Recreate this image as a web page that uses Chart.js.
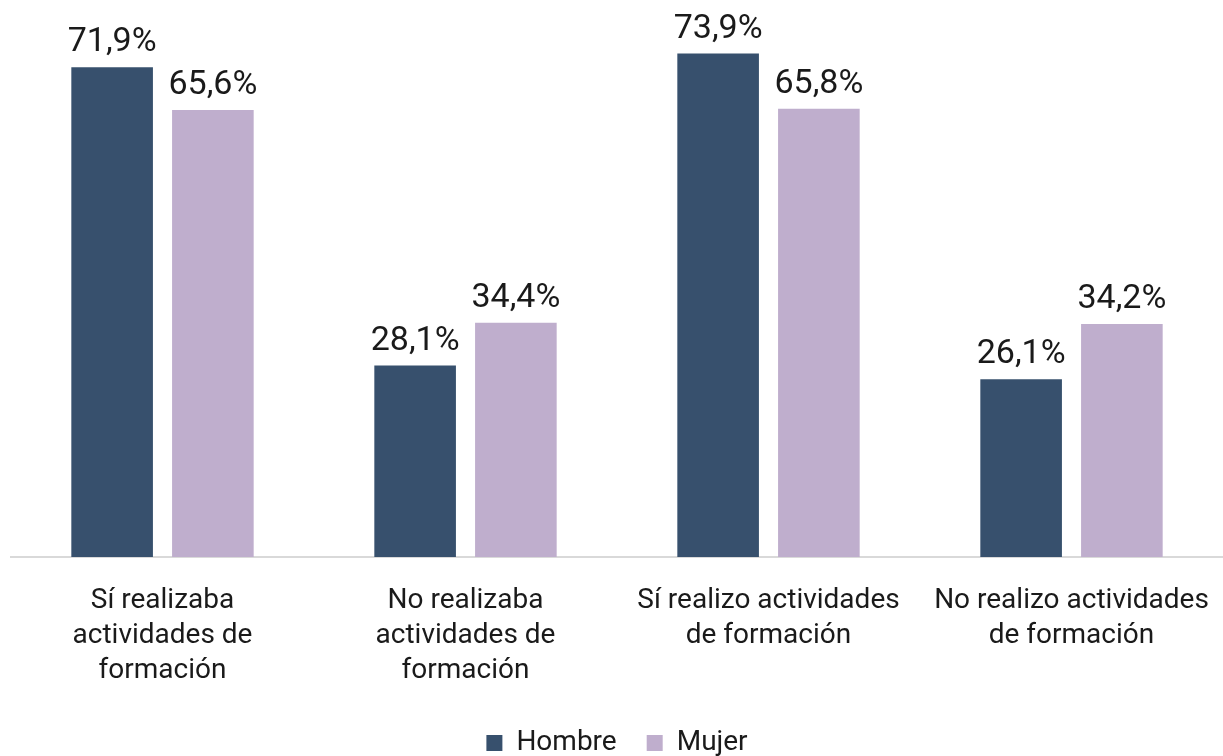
<!DOCTYPE html>
<html>
<head>
<meta charset="utf-8">
<script src="https://cdn.jsdelivr.net/npm/chart.js@4.4.1/dist/chart.umd.min.js"></script>
<style>
  html, body { margin: 0; padding: 0; background: #fff; }
  #wrap { width: 1223px; height: 756px; }
</style>
</head>
<body>
<div id="wrap"><canvas id="chart" width="1223" height="756"></canvas></div>
<script>
// categorías (en varias líneas como en el original)
const categorias = [
  ['Sí realizaba', 'actividades de', 'formación'],
  ['No realizaba', 'actividades de', 'formación'],
  ['Sí realizo actividades', 'de formación'],
  ['No realizo actividades', 'de formación']
];
const hombre = [71.9, 28.1, 73.9, 26.1];
const mujer = [65.6, 34.4, 65.8, 34.2];

const FONT = 'Roboto, "DejaVu Sans", sans-serif';

// etiquetas de valor encima de cada barra
const etiquetas = {
  id: 'etiquetas',
  afterDatasetsDraw(chart) {
    const ctx = chart.ctx;
    ctx.save();
    ctx.font = '34px ' + FONT;
    ctx.fillStyle = '#1a1a1a';
    ctx.textAlign = 'center';
    ctx.textBaseline = 'alphabetic';
    chart.data.datasets.forEach((ds, i) => {
      chart.getDatasetMeta(i).data.forEach((bar, j) => {
        const txt = ds.data[j].toFixed(1).replace('.', ',') + '%';
        ctx.fillText(txt, bar.x, bar.y - 16);
      });
    });
    ctx.restore();
  }
};

// sube un poco la leyenda
const subirLeyenda = {
  id: 'subirLeyenda',
  afterLayout(chart) {
    if (chart.legend) {
      chart.legend.top -= 7;
      chart.legend.bottom -= 7;
    }
  }
};

new Chart(document.getElementById('chart'), {
  type: 'bar',
  data: {
    labels: categorias,
    datasets: [
      { label: 'Hombre', data: hombre, backgroundColor: '#37506d' },
      { label: 'Mujer', data: mujer, backgroundColor: '#bfaecd' }
    ]
  },
  options: {
    responsive: false,
    animation: false,
    layout: { padding: { top: 12, left: 11, right: 0, bottom: -18 } },
    datasets: {
      bar: { categoryPercentage: 0.665, barPercentage: 0.81 }
    },
    plugins: {
      legend: {
        position: 'bottom',
        labels: {
          font: { family: FONT, size: 28 },
          color: '#1a1a1a',
          boxWidth: 16,
          boxHeight: 16,
          padding: 30
        }
      },
      tooltip: { enabled: false }
    },
    scales: {
      x: {
        grid: { display: false },
        border: { color: '#d9d9d9', width: 2 },
        ticks: {
          color: '#1a1a1a',
          font: { family: FONT, size: 28, lineHeight: 1.25 },
          padding: 18,
          maxRotation: 0,
          autoSkip: false
        },
        afterFit(scale) {
          // sin margen extra por el ancho de las etiquetas
          scale.paddingLeft = 0;
          scale.paddingRight = 0;
        }
      },
      y: {
        display: false,
        min: 0,
        max: 80
      }
    }
  },
  plugins: [etiquetas, subirLeyenda]
});
</script>
</body>
</html>
